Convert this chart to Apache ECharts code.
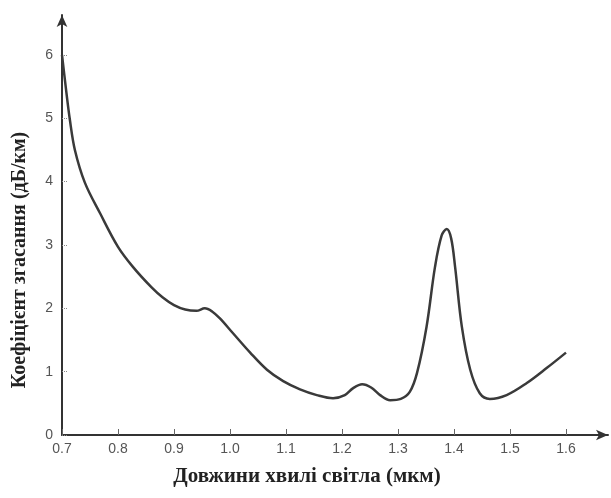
<!DOCTYPE html>
<html>
<head>
<meta charset="utf-8">
<script src="https://cdn.jsdelivr.net/npm/echarts@6/dist/echarts.min.js"></script>
<style>html,body{margin:0;padding:0;background:#fff;}#c{width:611px;height:498px;}</style>
</head>
<body>
<div id="c"></div>
<script>
const wavelength = [0.700,0.7066,0.714,0.723,0.741,0.768,0.800,0.827,0.860,0.880,0.900,0.920,0.940,0.955,0.968,0.982,1.005,1.036,1.066,1.095,1.125,1.155,1.184,1.205,1.220,1.236,1.252,1.268,1.286,1.305,1.321,1.334,1.351,1.366,1.378,1.387,1.395,1.402,1.414,1.429,1.446,1.464,1.494,1.530,1.566,1.600];
const attenuation = [6.00,5.50,4.98,4.50,3.98,3.50,2.97,2.65,2.33,2.17,2.05,1.98,1.96,2.00,1.95,1.84,1.61,1.30,1.03,0.85,0.72,0.63,0.58,0.63,0.74,0.80,0.75,0.63,0.55,0.57,0.68,0.98,1.71,2.65,3.15,3.25,3.10,2.65,1.71,1.03,0.66,0.57,0.63,0.82,1.06,1.30];
const xTicks = [0.7,0.8,0.9,1.0,1.1,1.2,1.3,1.4,1.5,1.6];
const yTicks = [0,1,2,3,4,5,6];
const xName = 'Довжини хвилі світла (мкм)';
const yName = 'Коефіцієнт згасання (дБ/км)';

const chart = echarts.init(document.getElementById('c'), null, {renderer:'canvas'});
const labelStyle = {color:'#555', fontFamily:'Liberation Sans, Arial, sans-serif', fontSize:14};
const nameFont = {fontFamily:'Liberation Serif, Times New Roman, serif', fontWeight:'bold', fill:'#222'};
chart.setOption({
  animation:false,
  grid:{left:62, right:3, top:15, bottom:63, containLabel:false},
  graphic:[
    {type:'text', style:{text:xName, ...nameFont, fontSize:21, textAlign:'center', textVerticalAlign:'middle'}, position:[307,477], z:10},
    {type:'text', style:{text:yName, ...nameFont, fontSize:20, textAlign:'center', textVerticalAlign:'middle'}, position:[20,260], rotation:Math.PI/2, z:10}
  ],
  xAxis:{
    type:'value', min:0.7, max:1.675,
    axisLine:{show:true, lineStyle:{color:'#333', width:2}, symbol:['none','arrow'], symbolSize:[8,12]},
    axisTick:{show:true, inside:true, length:6, customValues:xTicks, lineStyle:{color:'#666', width:1}},
    axisLabel:{customValues:xTicks, formatter:v=>v.toFixed(1), margin:7, ...labelStyle},
    splitLine:{show:false}
  },
  yAxis:{
    type:'value', min:0, max:6.63,
    axisLine:{show:true, lineStyle:{color:'#333', width:2}, symbol:['none','arrow'], symbolSize:[8,12]},
    axisTick:{show:true, inside:true, length:6, customValues:yTicks, lineStyle:{color:'#888', width:1, type:'dotted'}},
    axisLabel:{customValues:yTicks, margin:9, ...labelStyle},
    splitLine:{show:false}
  },
  series:[{
    type:'line',
    data:wavelength.map((w,i)=>[w, attenuation[i]]),
    smooth:0.35,
    showSymbol:false,
    lineStyle:{color:'#3a3a3a', width:2.5}
  }]
});
</script>
</body>
</html>
